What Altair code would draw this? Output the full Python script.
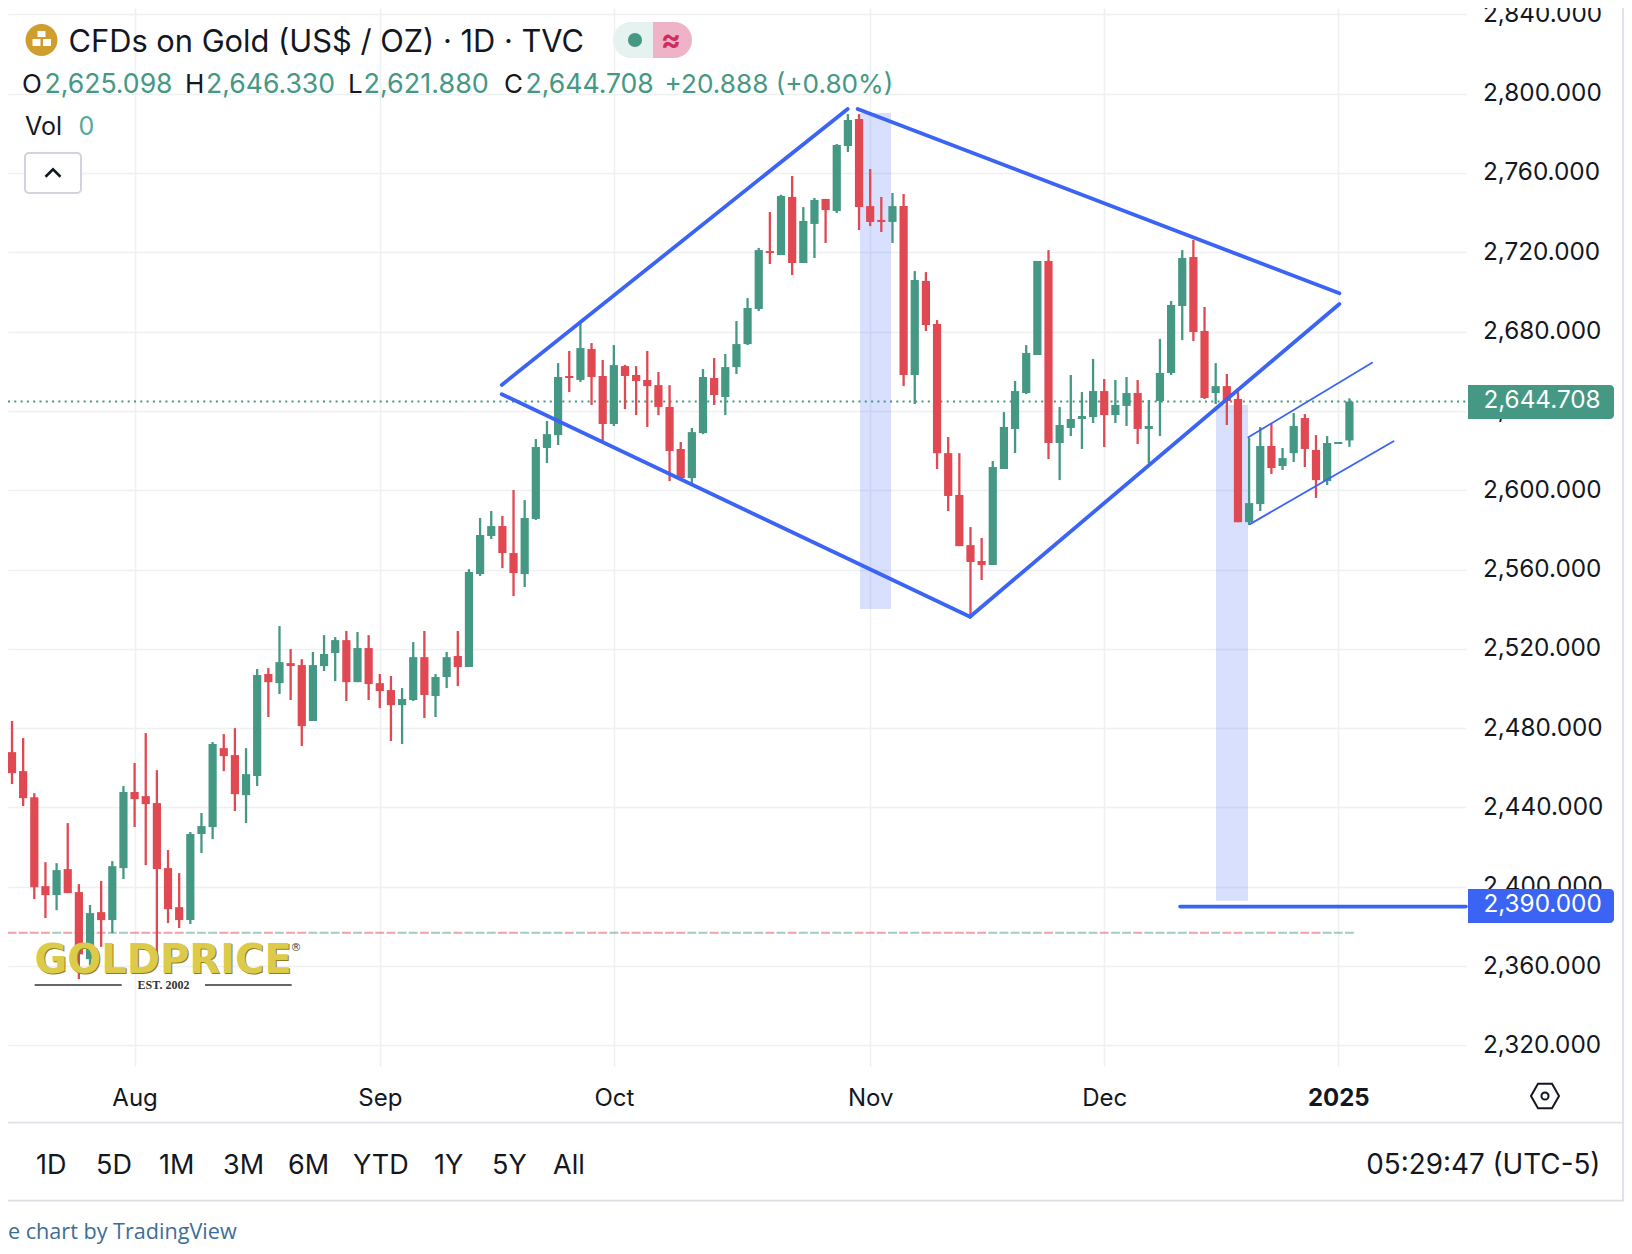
import altair as alt
import pandas as pd

opens = [2467.9,2458.3,2445.2,2400.3,2395.8,2408.9,2397.3,2363.5,2387.2,2383.2,2409.4,2447.8,2445.7,2442.2,2409.4,2389.7,2383.2,2426.6,2430.1,2469.9,2466.4,2446.2,2455.8,2507.3,2502.7,2512.8,2511.8,2483.6,2511.3,2517.9,2524.4,2503.2,2520.4,2502.7,2499.2,2491.6,2494.2,2515.8,2496.2,2505.8,2516.4,2510.8,2557.7,2576.9,2581.9,2568.3,2557.7,2585.5,2621.3,2627.8,2657.6,2655.6,2671.2,2657.6,2633.4,2662.6,2658.1,2655.6,2653.0,2642.0,2620.8,2606.1,2628.8,2656.6,2647.0,2662.1,2673.7,2691.4,2720.6,2718.6,2747.9,2714.6,2734.3,2746.9,2740.8,2773.6,2787.2,2743.3,2736.3,2735.3,2743.3,2658.1,2705.5,2683.8,2618.7,2597.6,2572.3,2564.3,2562.3,2610.7,2630.9,2649.0,2668.2,2715.6,2623.8,2631.4,2635.9,2636.9,2650.0,2637.9,2642.5,2649.0,2630.9,2645.0,2659.1,2692.9,2717.6,2680.3,2649.0,2652.5,2646.0,2583.9,2593.0,2622.3,2612.2,2618.7,2636.4,2620.3,2604.6,2623.3,2625.098]
highs = [2483.6,2475.0,2447.2,2412.4,2411.9,2432.1,2401.3,2390.8,2402.9,2412.9,2450.8,2462.4,2477.5,2458.8,2418.5,2406.9,2427.6,2437.2,2473.0,2477.0,2480.0,2469.9,2509.8,2510.3,2531.5,2519.9,2514.8,2518.4,2526.9,2525.9,2529.0,2528.5,2526.9,2507.3,2506.3,2500.2,2523.4,2529.0,2507.3,2518.4,2529.0,2560.2,2586.0,2589.5,2587.0,2600.1,2595.0,2625.8,2634.9,2664.1,2670.2,2685.3,2674.2,2665.7,2673.2,2663.2,2662.6,2670.2,2659.6,2653.0,2624.3,2631.4,2661.1,2666.7,2668.7,2685.3,2696.9,2722.2,2740.3,2749.0,2758.5,2742.8,2747.4,2746.9,2774.6,2789.7,2789.7,2762.0,2747.9,2749.9,2749.4,2710.5,2710.0,2685.8,2626.8,2618.7,2581.4,2575.9,2614.7,2639.4,2655.1,2673.2,2715.6,2721.1,2642.0,2658.1,2649.5,2666.2,2656.1,2655.6,2657.1,2655.6,2645.5,2676.3,2695.4,2721.1,2726.2,2692.4,2664.1,2658.6,2651.5,2626.3,2631.9,2633.4,2621.3,2638.9,2638.4,2627.8,2627.3,2624.3,2646.33]
lows = [2451.8,2440.7,2393.8,2384.2,2388.2,2396.8,2353.4,2360.5,2369.7,2376.6,2403.9,2430.1,2410.9,2365.5,2381.7,2379.2,2381.2,2417.0,2424.0,2458.3,2438.2,2432.1,2450.8,2485.6,2497.2,2494.2,2471.0,2483.6,2508.8,2503.7,2493.7,2503.2,2494.2,2490.1,2473.5,2472.0,2493.7,2485.1,2485.6,2500.2,2501.2,2510.8,2556.7,2575.4,2560.7,2546.6,2551.2,2585.0,2613.7,2622.8,2649.5,2654.6,2643.0,2624.8,2632.4,2640.9,2637.9,2631.9,2637.9,2604.6,2605.1,2603.1,2628.3,2643.0,2637.9,2658.6,2673.2,2690.4,2714.1,2718.6,2708.5,2714.6,2717.1,2724.7,2739.8,2770.6,2731.2,2733.2,2730.2,2724.7,2652.5,2643.5,2680.3,2610.7,2589.5,2571.8,2536.2,2554.7,2562.3,2610.7,2618.7,2648.5,2668.2,2615.7,2605.1,2627.3,2620.8,2633.9,2621.8,2633.9,2632.4,2623.3,2613.5,2627.3,2658.1,2675.7,2675.2,2646.0,2643.5,2632.9,2583.9,2582.4,2589.5,2608.2,2610.2,2614.2,2611.7,2596.1,2602.6,2623.3,2621.88]
closes = [2457.3,2444.7,2399.8,2395.8,2408.4,2396.8,2365.9,2386.7,2383.2,2410.4,2447.8,2444.2,2441.7,2408.9,2388.7,2383.2,2426.6,2430.6,2472.0,2465.9,2446.7,2456.8,2506.8,2503.2,2513.3,2511.3,2481.0,2511.8,2517.4,2524.4,2503.2,2520.4,2502.2,2498.7,2491.6,2494.7,2515.8,2496.7,2505.8,2515.8,2510.8,2558.7,2577.4,2581.9,2568.3,2558.2,2586.0,2621.8,2628.3,2657.1,2656.6,2671.7,2657.1,2633.4,2663.1,2657.6,2655.1,2652.5,2642.0,2619.8,2606.1,2629.3,2657.1,2648.0,2662.1,2673.7,2691.9,2721.1,2719.6,2748.4,2714.6,2735.8,2746.4,2741.3,2774.1,2786.7,2742.8,2735.3,2735.3,2743.3,2658.1,2706.0,2683.3,2618.7,2597.1,2571.8,2563.8,2562.3,2611.7,2631.9,2650.0,2669.2,2715.6,2623.8,2632.9,2635.9,2637.4,2650.0,2637.9,2643.0,2649.0,2630.9,2632.4,2659.1,2693.4,2717.1,2679.8,2646.5,2652.5,2645.0,2583.9,2593.5,2622.3,2611.2,2616.2,2632.4,2620.8,2605.1,2623.8,2624.3,2644.708]

month_index = [11, 33, 54, 77, 98, 119]
month_names = ["Aug", "Sep", "Oct", "Nov", "Dec", "2025"]
price_ticks = list(range(2320, 2841, 40))
last_price = 2644.708
support_price = 2390.0
prev_close_line = 2376.8

# drawn trend lines: start index, end index, start price, end price
thick_i1 = [43.94, 75.88, 43.94, 85.96]
thick_i2 = [74.98, 119.1, 85.96, 119.1]
thick_p1 = [2653.1, 2792.3, 2648.4, 2536.2]
thick_p2 = [2792.3, 2699.3, 2536.2, 2693.9]
thin_i1 = [110.93, 111.08]
thin_i2 = [122.03, 123.96]
thin_p1 = [2626.7, 2582.9]
thin_p2 = [2664.3, 2624.7]
# projection boxes
box_i1 = [76.09, 108.03]
box_i2 = [78.87, 110.9]
box_p1 = [2790.3, 2643.0]
box_p2 = [2540.1, 2392.9]

GREEN = "#459883"
RED = "#e04852"
BLUE = "#3b64f5"
INK = "#131722"
GRID = "#eff0f2"
BORDER = "#e0e3eb"
FONT = "Inter"

W, H = 1458, 1058
XMIN, XMAX = -0.359, 130.46
YMIN, YMAX = 2309.6, 2843.2
xs = alt.Scale(domain=[XMIN, XMAX], nice=False, zero=False)
ys = alt.Scale(domain=[YMIN, YMAX], nice=False, zero=False)

x_axis = alt.Axis(
    values=month_index,
    labelExpr="{" + ",".join(f"'{i}':'{n}'" for i, n in zip(month_index, month_names)) + "}[''+datum.value]",
    grid=True, gridColor=GRID, gridWidth=1.5, domain=False, ticks=False,
    labelFontSize=24, labelFont=FONT, labelColor=INK, labelPadding=20, labelOverlap=False, labelFlush=False,
    labelFontWeight={"condition": {"test": "datum.value == 119", "value": "bold"}, "value": "normal"},
)
y_axis = alt.Axis(
    values=price_ticks, format=",.3f", orient="right",
    grid=True, gridColor=GRID, gridWidth=1.5, domain=False, ticks=False,
    labelFontSize=24.3, labelFont=FONT, labelColor=INK, labelPadding=16.5, labelOverlap=False, labelFlush=False,
)


def X(f):
    return alt.X(f, type="quantitative", scale=xs, axis=x_axis, title=None)


def Y(f):
    return alt.Y(f, type="quantitative", scale=ys, axis=y_axis, title=None)


df = pd.DataFrame({"i": list(range(len(opens))), "o": opens, "h": highs, "l": lows, "c": closes})
df["dir"] = ["up" if c >= o else "down" for o, c in zip(opens, closes)]
df["d1"] = df["i"] - 0.4
df["d2"] = df["i"] + 0.4
df["prev"] = prev_close_line

color = alt.Color("dir:N", scale=alt.Scale(domain=["up", "down"], range=[GREEN, RED]), legend=None)

boxes = pd.DataFrame({"a": box_i1, "b": box_i2, "p": box_p1, "q": box_p2})
box_layer = alt.Chart(boxes).mark_rect(fill=BLUE, fillOpacity=0.2).encode(
    x=X("a:Q"), x2="b:Q", y=Y("p:Q"), y2="q:Q"
)
dash = alt.Chart(df).mark_rule(strokeWidth=2, opacity=0.5).encode(
    x=X("d1:Q"), x2="d2:Q", y=Y("prev:Q"), color=color
)
wick = alt.Chart(df).mark_rule(strokeWidth=2.3).encode(x=X("i:Q"), y=Y("l:Q"), y2="h:Q", color=color)
body = alt.Chart(df).mark_rule(strokeWidth=8.2).encode(x=X("i:Q"), y=Y("o:Q"), y2="c:Q", color=color)

dotted = alt.Chart(pd.DataFrame({"a": [XMIN], "b": [XMAX], "p": [last_price]})).mark_rule(
    color=GREEN, strokeWidth=2, strokeDash=[2, 4.3]
).encode(x=X("a:Q"), x2="b:Q", y=Y("p:Q"))

thick = alt.Chart(pd.DataFrame({"a": thick_i1, "b": thick_i2, "p": thick_p1, "q": thick_p2})).mark_rule(
    color=BLUE, strokeWidth=3.8, strokeCap="round"
).encode(x=X("a:Q"), x2="b:Q", y=Y("p:Q"), y2="q:Q")
thin = alt.Chart(pd.DataFrame({"a": thin_i1, "b": thin_i2, "p": thin_p1, "q": thin_p2})).mark_rule(
    color=BLUE, strokeWidth=1.8, strokeCap="round"
).encode(x=X("a:Q"), x2="b:Q", y=Y("p:Q"), y2="q:Q")
support = alt.Chart(pd.DataFrame({"a": [104.8], "b": [XMAX], "p": [support_price]})).mark_rule(
    color=BLUE, strokeWidth=3.6, strokeCap="round"
).encode(x=X("a:Q"), x2="b:Q", y=Y("p:Q"))

one = pd.DataFrame({"z": [0]})


def box(x1, y1, x2, y2, fill, **kw):
    return alt.Chart(one).mark_rect(fill=fill, **kw).encode(
        x=alt.value(x1 - 8), x2=alt.value(x2 - 8), y=alt.value(y1 - 8), y2=alt.value(y2 - 8)
    )


def T(x, y, s, size=24, color=INK, align="left", font=FONT, **kw):
    return alt.Chart(one).mark_text(align=align, baseline="middle", font=font, fontSize=size, color=color, **kw).encode(
        x=alt.value(x - 8), y=alt.value(y - 8), text=alt.value(s)
    )


def shape(x, y, path, size, **kw):
    return alt.Chart(one).mark_point(shape=path, size=size, **kw).encode(x=alt.value(x - 8), y=alt.value(y - 8))


chrome = [
    # coin icon
    shape(41.5, 40, "circle", 1018, filled=True, color="#cf9e2f", opacity=1),
    box(37.5, 31, 45.5, 37, "white"), box(32.5, 39, 40.5, 46, "white"), box(43, 39, 51, 46, "white"),
    T(68.5, 42.5, "CFDs on Gold (US$ / OZ) · 1D · TVC", size=30.8),
    # status pill
    box(613, 22, 654, 58, "#e6f2ef", cornerRadiusTopLeft=18, cornerRadiusBottomLeft=18),
    box(653, 22, 692, 58, "#eeb3c6", cornerRadiusTopRight=18, cornerRadiusBottomRight=18),
    shape(635, 40, "circle", 200, filled=True, color=GREEN, opacity=1),
    T(671, 41, "≈", size=30, color="#cc2f5d", align="center", fontWeight="bold"),
    # OHLC row
    T(22, 85, "O", size=26), T(44.5, 85, "2,625.098", size=26.6, color=GREEN),
    T(185, 85, "H", size=26), T(206, 85, "2,646.330", size=26.6, color=GREEN),
    T(348, 85, "L", size=26), T(363.5, 85, "2,621.880", size=27, color=GREEN),
    T(504, 85, "C", size=26), T(525.5, 85, "2,644.708", size=26.6, color=GREEN),
    T(664.5, 85, "+20.888 (+0.80%)", size=26.2, color=GREEN),
    T(25, 127, "Vol", size=25), T(78.5, 127, "0", size=25, color="#53a99b"),
    # collapse button
    box(25, 153, 81, 193, "white", stroke="#d1d4dc", strokeWidth=2, cornerRadius=4),
    shape(53, 173, "M-1,0.5L0,-0.5L1,0.5", 225, filled=False, color=INK, strokeWidth=2.5, opacity=1),
    # settings icon
    shape(1545, 1096, "M-1,0L-0.5,-0.87L0.5,-0.87L1,0L0.5,0.87L-0.5,0.87Z", 784, filled=False, color=INK, strokeWidth=2, opacity=1),
    shape(1545, 1096, "circle", 50, filled=False, color=INK, strokeWidth=2, opacity=1),
    # frame and toolbar
    box(8, 1121.8, 1622, 1123.6, BORDER),
    box(0, 1199.8, 1632, 1201.6, "#dcdfe4"),
    box(1622, 8, 1632, 1200, BORDER),
]
for lx, lab in zip([36, 96, 159, 223, 288, 353, 434, 492, 553],
                   ["1D", "5D", "1M", "3M", "6M", "YTD", "1Y", "5Y", "All"]):
    chrome.append(T(lx, 1165.5, lab, size=27))
chrome += [
    T(1600.5, 1165.5, "05:29:47 (UTC-5)", size=27.8, align="right"),
    T(8, 1233, "e chart by TradingView", size=21.6, color="#3d6e96", font="Open Sans"),
]

tags = [
    box(1468, 385, 1614, 419, GREEN, cornerRadiusTopRight=4, cornerRadiusBottomRight=4),
    T(1483.4, 401, "2,644.708", size=24.3, color="white"),
    box(1468, 889, 1614, 923, BLUE, cornerRadiusTopRight=4, cornerRadiusBottomRight=4),
    T(1483.4, 905, "2,390.000", size=24.3, color="white"),
]

logo = [
    T(34.5, 961, "GOLDPRICE", size=40, color="#8f7d1e", font="DejaVu Sans", fontWeight="bold", dx=1, dy=1.2),
    T(34.5, 961, "GOLDPRICE", size=40, color="#dcca4a", font="DejaVu Sans", fontWeight="bold"),
    T(296, 948, "®", size=11, color="#444444", align="center", font="DejaVu Sans"),
    T(163.5, 985, "EST. 2002", size=12, color="#333333", align="center", font="Liberation Serif", fontWeight="bold"),
    box(34.7, 984.3, 121.7, 985.8, "#333333"),
    box(205, 984.3, 291.7, 985.8, "#333333"),
]

chart = alt.layer(
    box_layer, dash, dotted, wick, body, thick, thin, support, *chrome, *tags, *logo
).properties(
    width=W, height=H,
    padding={"left": 0, "top": 0, "right": 158, "bottom": 180},
    autosize=alt.AutoSizeParams(type="none"),
).configure(background="white").configure_view(stroke=None)

chart.save("out.html", embed_options={"renderer": "svg", "actions": False})
